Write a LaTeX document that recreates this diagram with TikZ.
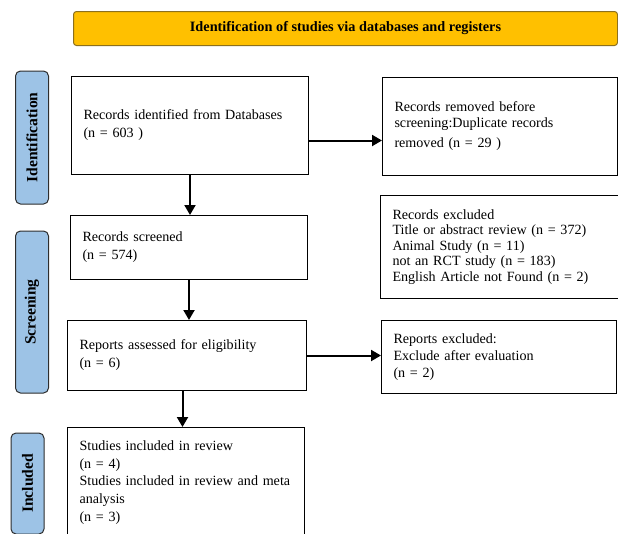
\documentclass[tikz,border=0pt]{standalone}
\usepackage{fontspec}
\setmainfont{Liberation Serif}
\usepackage{tikz}
\usetikzlibrary{arrows.meta, positioning, calc}
\definecolor{prisgold}{RGB}{255,192,0}
\definecolor{prisgoldline}{RGB}{140,112,30}
\definecolor{prisblue}{RGB}{157,195,230}
\definecolor{prisline}{RGB}{45,45,45}
\tikzset{
  %% ---- boxes ----
  banner/.style = {rectangle, rounded corners=3pt,
                   draw=prisgoldline, line width=1pt,
                   fill=prisgold, minimum width=544pt, minimum height=34pt,
                   anchor=north west, font=\fontsize{14.3}{16}\selectfont\bfseries},
  phase/.style  = {rectangle, rounded corners=5pt,
                   draw=prisline, line width=1pt,
                   fill=prisblue, minimum width=#1, minimum height=33pt,
                   rotate=90, font=\fontsize{15.6}{17}\selectfont\bfseries},
  record/.style = {rectangle, draw=black, line width=1pt,
                   fill=white, text width=#1, inner xsep=12pt, align=left,
                   anchor=north west, font=\fontsize{14.1}{18}\selectfont},
  record/.default = 213pt,
  %% ---- arrows ----
  arrow/.style  = {-{Triangle[length=10pt, width=11pt]}, line width=2pt, color=black},
}
\begin{document}
\begin{tikzpicture}[x=1pt, y=-1pt]

  \useasboundingbox (0,0) rectangle (618,533);

  \node[banner] (head) at (73,11)
    {Identification of studies via databases and registers};

  \node[phase=133pt] (ident)  at (32,137.5) {Identification};
  \node[phase=162pt] (screen) at (32,312)   {Screening};
  \node[phase=101pt] (incl)   at (27.5,483.5) {Included};

  \node[record, minimum height=98pt] (db) at (71,76)
    {Records identified from Databases\\(n = 603 )};

  \node[record=211pt, minimum height=98pt,
        font=\fontsize{14.1}{15.5}\selectfont] (removed) at (382,77)
    {Records removed before\\screening:Duplicate records\\[5pt]removed (n = 29 )};

  \node[record, minimum height=64pt] (screened) at (70,215)
    {Records screened\\(n = 574)};

  \node[record=214pt, minimum height=103pt,
        font=\fontsize{14.1}{15.5}\selectfont] (excluded) at (380,195)
    {Records excluded\\Title or abstract review (n = 372)\\Animal Study (n = 11)\\
     not an RCT study (n = 183)\\English Article not Found (n = 2)};

  \node[record=215pt, minimum height=70pt] (assessed) at (67,320)
    {Reports assessed for eligibility\\(n = 6)};

  \node[record=211pt, minimum height=73pt,
        font=\fontsize{14.1}{17}\selectfont] (reportsexcl) at (381,320)
    {Reports excluded:\\Exclude after evaluation\\(n = 2)};

  \node[record, minimum height=110pt,
        font=\fontsize{14.1}{17.7}\selectfont] (included) at (67,427)
    {Studies included in review\\(n = 4)\\\mbox{Studies included in review and meta}\\
     analysis\\(n = 3)};

  \draw[arrow] ([yshift=-15pt]db.east) -- ([yshift=-15pt]db.east -| removed.west);
  \draw[arrow] (db.south) -- (db.south |- screened.north);
  \draw[arrow] (screened.south) -- (screened.south |- assessed.north);
  \draw[arrow] (assessed.east) -- (assessed.east -| reportsexcl.west);
  \draw[arrow] ([xshift=-4.5pt]assessed.south)
            -- ([xshift=-4.5pt]assessed.south |- included.north);

\end{tikzpicture}
\end{document}
